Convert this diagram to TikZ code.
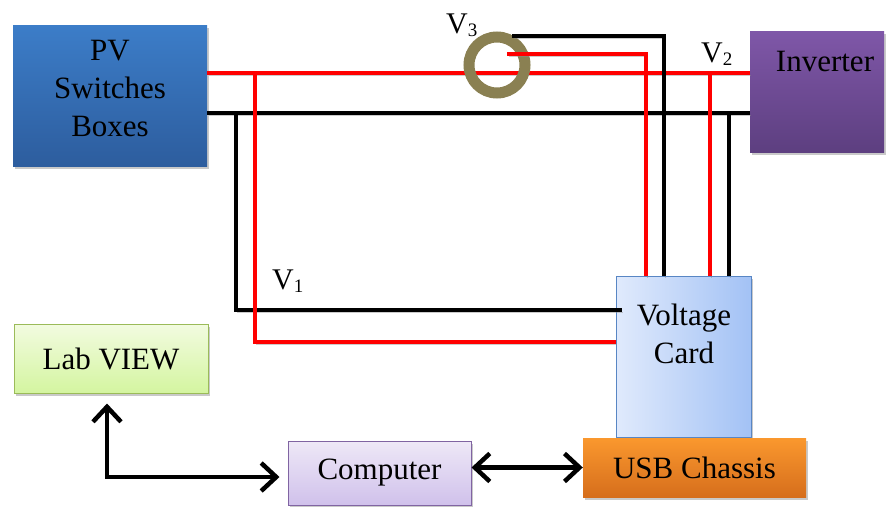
\documentclass[tikz,border=0pt]{standalone}
\usepackage{fontspec}
\setmainfont{Liberation Serif}
\usetikzlibrary{arrows.meta,shadows,calc}
\definecolor{pvtop}{RGB}{60,125,200}
\definecolor{pvbot}{RGB}{45,93,158}
\definecolor{invtop}{RGB}{127,87,168}
\definecolor{invbot}{RGB}{93,63,128}
\definecolor{cardl}{RGB}{224,234,252}
\definecolor{cardr}{RGB}{163,194,245}
\definecolor{cardb}{RGB}{88,134,196}
\definecolor{usbtop}{RGB}{250,152,46}
\definecolor{usbbot}{RGB}{214,110,28}
\definecolor{labtop}{RGB}{242,251,224}
\definecolor{labbot}{RGB}{212,245,160}
\definecolor{labb}{RGB}{155,187,89}
\definecolor{comptop}{RGB}{238,232,247}
\definecolor{compbot}{RGB}{208,193,235}
\definecolor{compb}{RGB}{128,100,162}
\definecolor{ringc}{RGB}{138,128,82}
\newcommand\vsub[1]{{\fontsize{19}{19}\selectfont\raisebox{-3pt}{#1}}}
\begin{document}
\begin{tikzpicture}[x=1pt,y=-1pt,
  every node/.style={font=\fontsize{31}{38}\selectfont},
  box/.style={rectangle, inner sep=0pt, align=center,
    drop shadow={shadow xshift=1.5pt, shadow yshift=-2.5pt, opacity=0.35, fill=black!60}},
  txt/.style={inner sep=0pt, align=center},
  vlbl/.style={inner sep=0pt, anchor=base west, font=\fontsize{30}{30}\selectfont},
  wshadow/.style={preaction={draw=black!45, opacity=0.45, transform canvas={xshift=1.5pt, yshift=-2.5pt}}},
  redw/.style={draw=red, line width=4pt, line join=miter, wshadow},
  blkw/.style={draw=black, line width=4pt, line join=miter, wshadow},
  tipb/.tip={Straight Barb[length=15pt 0 0,width=28pt 0 0,line width=4.5pt]},
  arr/.style={draw=black, line width=4.5pt, line join=miter, tipb-tipb}
]
\useasboundingbox (0,0) rectangle (886,506);
\fill[white] (0,0) rectangle (886,506);

% boxes
\node[box, minimum width=194pt, minimum height=141pt, top color=pvtop, bottom color=pvbot] (pv) at (110,95.5) {};
\node[txt] (pvtext) at (110,89) {PV\\Switches\\Boxes};
\node[box, minimum width=134pt, minimum height=121pt, top color=invtop, bottom color=invbot] (inv) at (817,91.5) {};
\node[txt] (invtext) at (825,62) {Inverter};
\node[box, draw=cardb, line width=1pt, minimum width=135pt, minimum height=161pt, left color=cardl, right color=cardr] (card) at (683.5,356.5) {};
\node[txt] (cardtext) at (684,334) {Voltage\\Card};
\node[box, minimum width=223pt, minimum height=59pt, top color=usbtop, bottom color=usbbot] (usb) at (694.5,467.5) {USB Chassis};
\node[box, draw=labb, line width=1pt, minimum width=194pt, minimum height=69pt, top color=labtop, bottom color=labbot] (lab) at (111,358.5) {Lab VIEW};
\node[box, draw=compb, line width=1pt, minimum width=183pt, minimum height=64pt, top color=comptop, bottom color=compbot] (comp) at (379.5,473) {Computer};

% levels and tap points
\coordinate (rl) at (0,73);
\coordinate (bl) at (0,113);
\coordinate (v1r) at (0,342);
\coordinate (v1b) at (0,310);
\coordinate (tr1) at (255,73);
\coordinate (tb1) at (236,113);
\coordinate (tr2) at (710,73);
\coordinate (tb2) at (729,113);
\coordinate (s3r) at (507,54);
\coordinate (s3b) at (512,36);

% main wires
\draw[redw] (pv.east |- rl) -- (inv.west |- rl);
\draw[blkw] (pv.east |- bl) -- (inv.west |- bl);

% V1 taps
\draw[blkw] (tb1) |- ([xshift=6pt]card.west |- v1b);
\draw[redw] (tr1) |- (card.west |- v1r);

% V2 taps
\draw[redw] (tr2) -- (tr2 |- card.north);
\draw[blkw] (tb2) -- (tb2 |- card.north);

% current ring V3
\node[circle, draw=ringc, line width=11pt, minimum size=56pt, inner sep=0pt] (ring) at (497,65) {};
\draw[redw] (s3r) -| ($(card.north west)+(30,0)$);
\draw[blkw] (s3b) -| ($(card.north west)+(48,0)$);

% labels
\node[vlbl] (v3) at (446,33) {V\vsub{3}};
\node[vlbl] (v2) at (701,62) {V\vsub{2}};
\node[vlbl] (v1) at (272,289) {V\vsub{1}};

% arrows
\draw[arr, shorten <=10pt, shorten >=8pt] ([xshift=-4pt]lab.south) |- ([yshift=-4pt]comp.west);
\draw[arr] (comp.east |- usb.west) -- (usb.west);
\end{tikzpicture}
\end{document}
